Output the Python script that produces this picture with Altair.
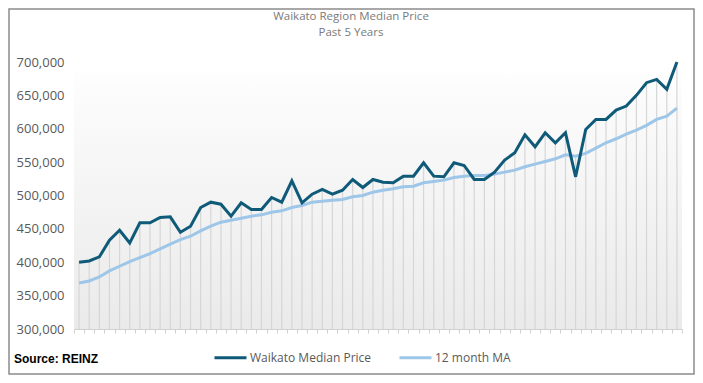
import altair as alt
import pandas as pd

# ---- data ----
month_index = list(range(60))
median_price = [400000, 402000, 408000, 433000, 448000, 429000, 459000, 459000, 467000, 468000,
                445000, 454000, 482000, 490000, 487000, 469000, 489000, 479000, 479000, 497000,
                490000, 522000, 489000, 502000, 509000, 502000, 508000, 524000, 512000, 524000,
                520000, 519000, 529000, 529000, 549000, 529000, 528000, 549000, 545000, 524000,
                524000, 535000, 553000, 564000, 591000, 573000, 594000, 579000, 594000, 528000,
                599000, 614000, 614000, 628000, 634000, 650000, 669000, 674000, 659000, 700000]
ma_12 = [369000, 372000, 378000, 387000, 394000, 401000, 407000, 413000, 420000, 427000,
         434000, 439000, 447000, 454000, 460000, 463000, 466000, 469000, 471000, 475000,
         477000, 482000, 485000, 490000, 491500, 493000, 494000, 498000, 500000, 505000,
         508000, 510000, 513000, 514000, 519000, 521000, 523000, 527000, 529000, 530000,
         530000, 532000, 535000, 538000, 543000, 547000, 551000, 555000, 561000, 559000,
         563000, 571000, 579000, 585000, 592000, 598000, 605000, 614000, 619000, 631000]
series_names = ["Waikato Median Price", "12 month MA"]
series_colors = ["#0f5a78", "#9dc6e8"]
y_ticks = [300000, 350000, 400000, 450000, 500000, 550000, 600000, 650000, 700000]
title_lines = ["Waikato Region Median Price", "Past 5 Years"]
source_text = "Source: REINZ"

df = pd.DataFrame({"i": month_index, "median": median_price, "ma": ma_12})
one = pd.DataFrame({"a": [0]})

W, H = 608, 267
font = "Open Sans"

x_enc = alt.X("i:Q", scale=alt.Scale(domain=[-0.5, 59.5], nice=False, zero=False),
              axis=alt.Axis(values=[k - 0.5 for k in range(61)], labels=False, title=None,
                            ticks=True, tickSize=4, tickColor="#d0d0d0",
                            domain=True, domainColor="#d0d0d0", grid=False))
y_scale = alt.Scale(domain=[300000, 700000], nice=False, zero=False)
y_axis = alt.Axis(values=y_ticks, format=",d", title=None, grid=False, domain=False, ticks=False,
                  labelPadding=10, labelFont=font, labelFontSize=13, labelColor="#595959")

color_scale = alt.Scale(domain=series_names, range=series_colors)
legend = alt.Legend(title=None, orient="none", legendX=139, legendY=278, direction="horizontal",
                    symbolType="stroke", symbolSize=1024, symbolStrokeWidth=3, labelOffset=2,
                    columnPadding=21, padding=0, labelFont=font, labelFontSize=12,
                    labelColor="#595959")

background = alt.Chart(one).mark_rect(
    fill=alt.Gradient(gradient="linear", x1=0, x2=0, y1=0, y2=1,
                      stops=[alt.GradientStop(color="#ffffff", offset=0),
                             alt.GradientStop(color="#fbfbfb", offset=0.15),
                             alt.GradientStop(color="#eaeaea", offset=1)])
).encode(x=alt.value(0), x2=alt.value(W), y=alt.value(0), y2=alt.value(H))

border = alt.Chart(one).mark_rect(fill="transparent", stroke="#8c8c8c", strokeWidth=1.5).encode(
    x=alt.value(-65), x2=alt.value(W + 12), y=alt.value(-53), y2=alt.value(H + 45))

drops = alt.Chart(df).transform_calculate(
    top="max(datum.median, datum.ma)"
).mark_rule(color="#d6d6d6", strokeWidth=1.2).encode(
    x=x_enc,
    y=alt.Y("top:Q", scale=y_scale, axis=y_axis),
    y2=alt.datum(300000),
)

line_ma = alt.Chart(df).transform_calculate(
    series=f"'{series_names[1]}'"
).mark_line(strokeWidth=3).encode(
    x=x_enc,
    y=alt.Y("ma:Q", scale=y_scale, axis=y_axis),
    color=alt.Color("series:N", scale=color_scale, legend=legend),
)
line_med = alt.Chart(df).transform_calculate(
    series=f"'{series_names[0]}'"
).mark_line(strokeWidth=3).encode(
    x=x_enc,
    y=alt.Y("median:Q", scale=y_scale, axis=y_axis),
    color=alt.Color("series:N", scale=color_scale, legend=legend),
)

t1 = alt.Chart(one).mark_text(font=font, fontSize=11.5, color="#7a7a7a", align="center",
                              baseline="middle").encode(
    x=alt.value(277), y=alt.value(-45), text=alt.value(title_lines[0]))
t2 = alt.Chart(one).mark_text(font=font, fontSize=11.5, color="#7a7a7a", align="center",
                              baseline="middle").encode(
    x=alt.value(277), y=alt.value(-29), text=alt.value(title_lines[1]))
src = alt.Chart(one).mark_text(font="Liberation Sans", fontSize=12, fontWeight="bold",
                               color="#000000", align="left", baseline="middle").encode(
    x=alt.value(-60), y=alt.value(297), text=alt.value(source_text))

chart = alt.layer(background, border, drops, line_ma, line_med, t1, t2, src).properties(
    width=W, height=H,
    autosize=alt.AutoSizeParams(type="none"),
    padding={"left": 66, "top": 54, "right": 13, "bottom": 46},
).configure_view(stroke="transparent")

chart.save("out.html", embed_options={"renderer": "svg", "actions": False})
